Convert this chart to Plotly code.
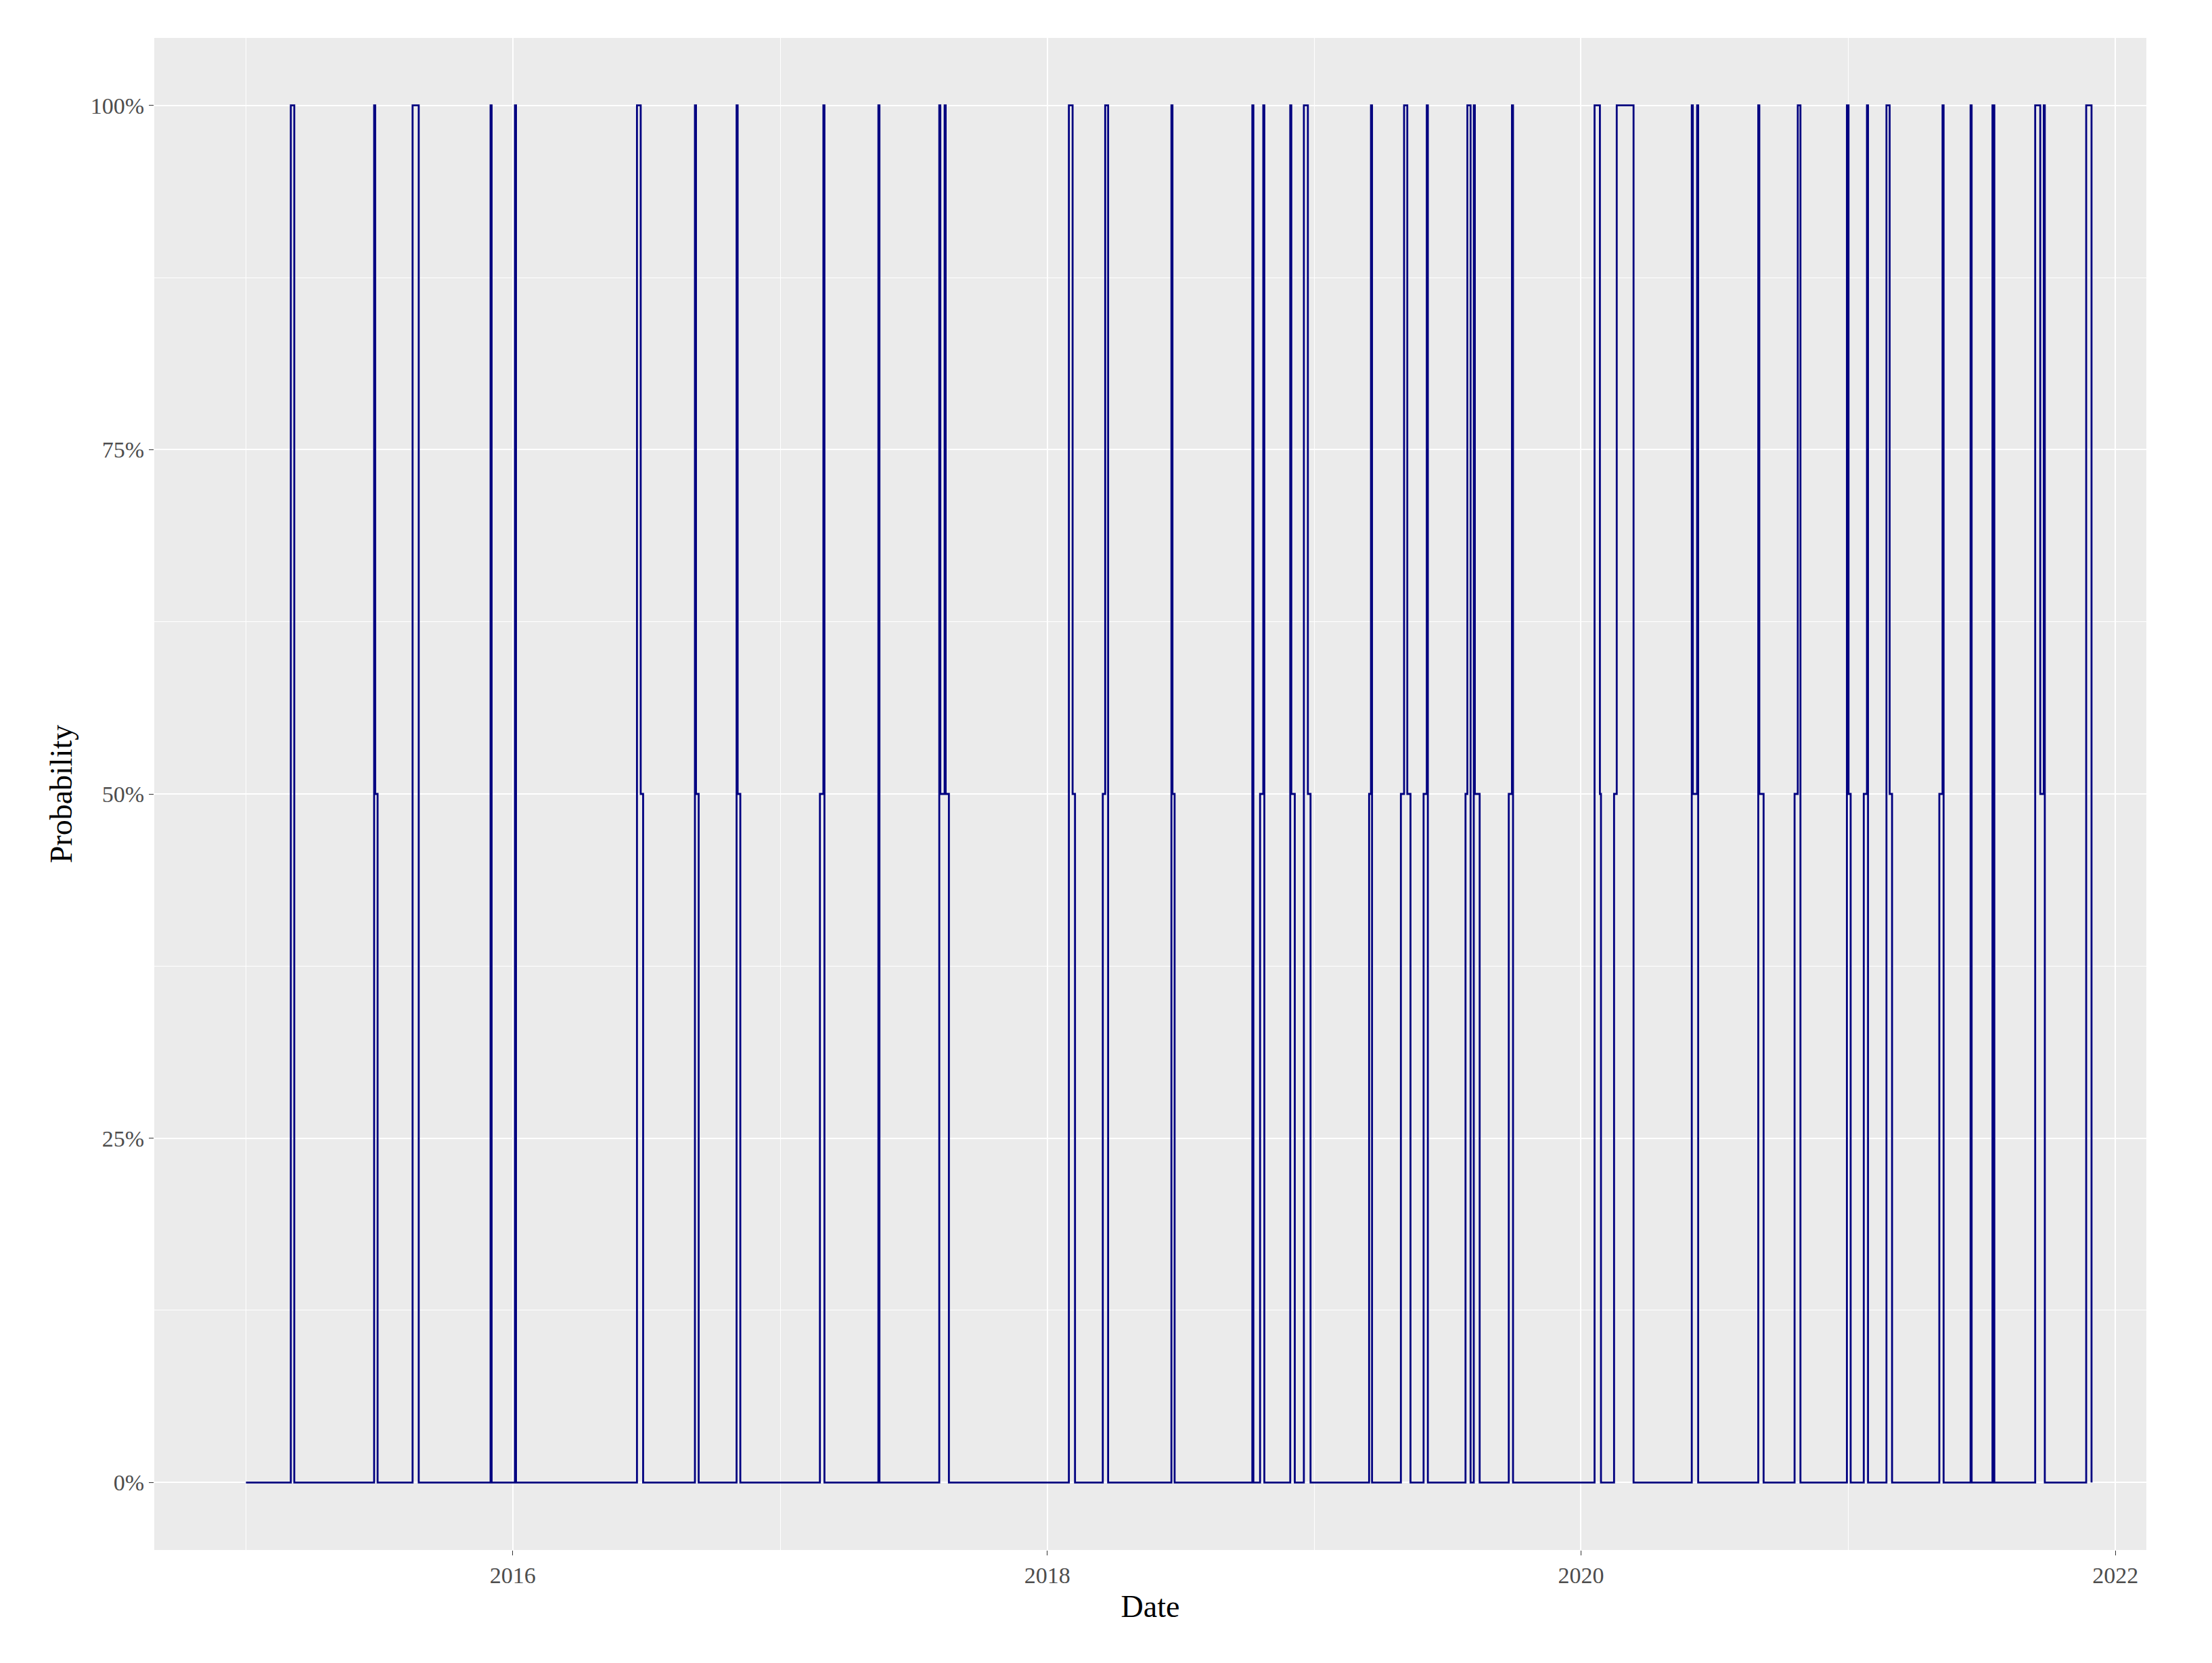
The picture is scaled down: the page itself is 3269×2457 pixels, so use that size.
import pandas as pd
import plotly.graph_objects as go

# step points: decimal year, probability
times = [2015.000,
 2015.168, 2015.181,
 2015.480, 2015.484, 2015.493,
 2015.624, 2015.647,
 2015.916, 2015.920,
 2016.008, 2016.012,
 2016.465, 2016.479, 2016.488,
 2016.682, 2016.686, 2016.696,
 2016.838, 2016.842, 2016.852,
 2017.148, 2017.161, 2017.165,
 2017.367, 2017.371,
 2017.595, 2017.599, 2017.615, 2017.619, 2017.631,
 2018.081, 2018.095, 2018.104,
 2018.208, 2018.217, 2018.228,
 2018.465, 2018.469, 2018.477,
 2018.768, 2018.772,
 2018.797, 2018.809, 2018.813,
 2018.910, 2018.914, 2018.927,
 2018.961, 2018.976, 2018.986,
 2019.206, 2019.213, 2019.217,
 2019.325, 2019.337, 2019.349, 2019.361,
 2019.410, 2019.422, 2019.426,
 2019.567, 2019.574, 2019.586, 2019.598, 2019.602, 2019.620,
 2019.729, 2019.741, 2019.745,
 2020.051, 2020.071, 2020.075,
 2020.124, 2020.134, 2020.197,
 2020.415, 2020.419, 2020.435, 2020.439,
 2020.664, 2020.668, 2020.684,
 2020.800, 2020.812, 2020.822,
 2020.996, 2021.000, 2021.008,
 2021.057, 2021.069, 2021.073,
 2021.142, 2021.154, 2021.163,
 2021.340, 2021.352, 2021.356,
 2021.457, 2021.461,
 2021.539, 2021.546,
 2021.699, 2021.718, 2021.731, 2021.735,
 2021.890, 2021.910]
probs = [0,
 1, 0,
 1, 0.5, 0,
 1, 0,
 1, 0,
 1, 0,
 1, 0.5, 0,
 1, 0.5, 0,
 1, 0.5, 0,
 0.5, 1, 0,
 1, 0,
 1, 0.5, 1, 0.5, 0,
 1, 0.5, 0,
 0.5, 1, 0,
 1, 0.5, 0,
 1, 0,
 0.5, 1, 0,
 1, 0.5, 0,
 1, 0.5, 0,
 0.5, 1, 0,
 0.5, 1, 0.5, 0,
 0.5, 1, 0,
 0.5, 1, 0, 1, 0.5, 0,
 0.5, 1, 0,
 1, 0.5, 0,
 0.5, 1, 0,
 1, 0.5, 1, 0,
 1, 0.5, 0,
 0.5, 1, 0,
 1, 0.5, 0,
 0.5, 1, 0,
 1, 0.5, 0,
 0.5, 1, 0,
 1, 0,
 1, 0,
 1, 0.5, 1, 0,
 1, 0]

def to_date(y):
    yr = int(y)
    return pd.Timestamp(year=yr, month=1, day=1) + pd.Timedelta(days=(y - yr) * 365.25)

dates = [to_date(t) for t in times]

fig = go.Figure(go.Scatter(x=dates, y=probs, mode="lines", line_shape="hv",
                           line=dict(color="#000080", width=2.8), showlegend=False))

font = "Liberation Serif"
fig.update_layout(
    width=3269, height=2457,
    paper_bgcolor="white", plot_bgcolor="#EBEBEB",
    margin=dict(l=220, r=105, t=48, b=175),
    font=dict(family=font, size=34, color="#4D4D4D"),
    xaxis=dict(title=dict(text="Date", font=dict(size=46, color="black"), standoff=12),
               range=[to_date(2014.656), to_date(2022.116)],
               tickvals=[to_date(2016.0), to_date(2018.0), to_date(2020.0), to_date(2022.0)],
               ticktext=["2016", "2018", "2020", "2022"],
               showgrid=True, gridcolor="white", gridwidth=2.4, zeroline=False,
               ticks="outside", ticklen=7, tickcolor="#333333",
               minor=dict(tickvals=[to_date(2015.0), to_date(2017.0), to_date(2019.0), to_date(2021.0)],
                          showgrid=True, gridcolor="white", gridwidth=1.2)),
    yaxis=dict(title=dict(text="Probability", font=dict(size=46, color="black"), standoff=12),
               range=[-0.049, 1.049],
               tickvals=[0, 0.25, 0.5, 0.75, 1.0],
               ticktext=["0%", "25%", "50%", "75%", "100%"],
               showgrid=True, gridcolor="white", gridwidth=2.4, zeroline=False,
               ticks="outside", ticklen=7, tickcolor="#333333",
               minor=dict(tickvals=[0.125, 0.375, 0.625, 0.875],
                          showgrid=True, gridcolor="white", gridwidth=1.2)),
)
fig.write_html("out.html")
